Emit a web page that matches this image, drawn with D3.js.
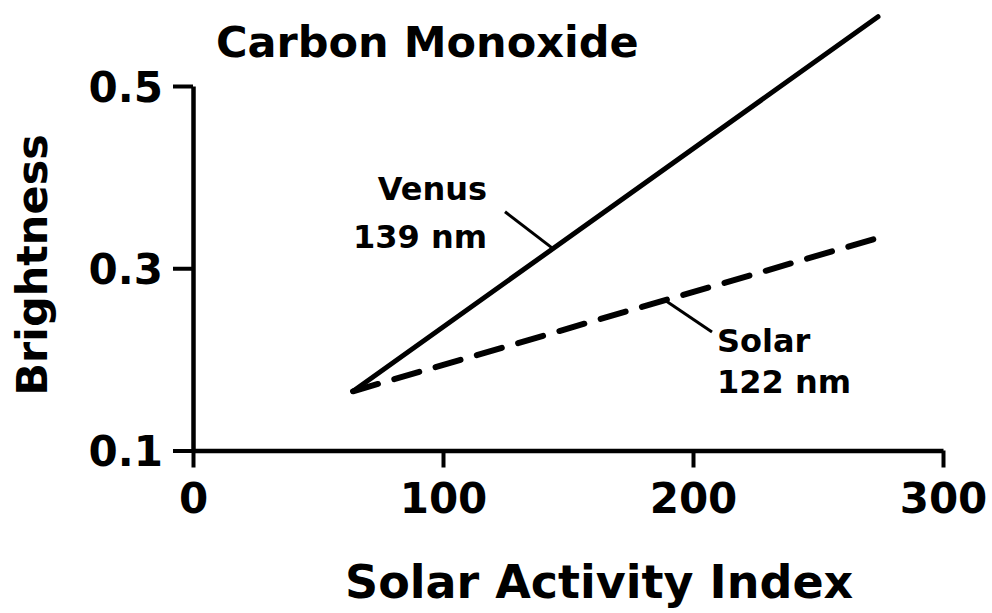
<!DOCTYPE html>
<html>
<head>
<meta charset="utf-8">
<script src="https://cdn.jsdelivr.net/npm/d3@7"></script>
<style>
  html, body { margin: 0; padding: 0; background: #fff; }
  svg { display: block; }
  text { font-family: "DejaVu Sans", sans-serif; font-weight: bold; fill: #000; }
</style>
</head>
<body>
<svg id="chart" width="992" height="613"></svg>
<script>
// Brightness of CO emission vs. solar activity
const xTicks = [0, 100, 200, 300];
const yTicks = [0.1, 0.3, 0.5];
const yTickLabels = ["0.1", "0.3", "0.5"];

const venusX = [64, 274];
const venusY = [0.165, 0.576];
const solarX = [64, 275];
const solarY = [0.165, 0.334];

// Series labels with leader lines (data coordinates)
const labelNames = ["Venus", "Solar"];
const labelWaves = ["139 nm", "122 nm"];
const leaderFromX = [124.8, 188.8];
const leaderFromY = [0.362, 0.265];
const leaderToX = [144, 207.6];
const leaderToY = [0.3216, 0.230];

const svg = d3.select("#chart");

const x = d3.scaleLinear().domain([0, 300]).range([193, 943]);
const y = d3.scaleLinear().domain([0.1, 0.5]).range([450.5, 86]);

// Axes
const xAxis = d3.axisBottom(x).tickValues(xTicks).tickSize(17).tickSizeOuter(0).tickPadding(14).tickFormat(d3.format("d"));
const yAxis = d3.axisLeft(y).tickValues(yTicks).tickSize(20).tickSizeOuter(0).tickPadding(10)
  .tickFormat((d, i) => yTickLabels[i]);

const gx = svg.append("g").attr("transform", `translate(0,${y(0.1)})`).call(xAxis);
const gy = svg.append("g").attr("transform", `translate(${x(0)},0)`).call(yAxis);

[gx, gy].forEach(g => {
  g.select(".domain").attr("stroke", "#000").attr("stroke-width", 4.5);
  g.selectAll(".tick line").attr("stroke", "#000").attr("stroke-width", 4);
  g.selectAll(".tick text").attr("font-size", 42).attr("font-family", "DejaVu Sans").attr("font-weight", "bold").attr("fill", "#000");
});
gx.selectAll(".tick text").attr("dy", "0.75em");
gy.selectAll(".tick text").attr("dy", "0.36em");

// Lines
const line = d3.line().x(d => x(d[0])).y(d => y(d[1]));
svg.append("path")
  .datum(venusX.map((v, i) => [v, venusY[i]]))
  .attr("d", line).attr("fill", "none").attr("stroke", "#000")
  .attr("stroke-width", 5).attr("stroke-linecap", "round");
svg.append("path")
  .datum(solarX.map((v, i) => [v, solarY[i]]))
  .attr("d", line).attr("fill", "none").attr("stroke", "#000")
  .attr("stroke-width", 6).attr("stroke-linecap", "round")
  .attr("stroke-dasharray", "26,17");

// Leader lines
labelNames.forEach((n, i) => {
  svg.append("line")
    .attr("x1", x(leaderFromX[i])).attr("y1", y(leaderFromY[i]))
    .attr("x2", x(leaderToX[i])).attr("y2", y(leaderToY[i]))
    .attr("stroke", "#000").attr("stroke-width", 3);
});

// Series labels
const venusLabel = svg.append("text").attr("font-size", 32).attr("text-anchor", "end");
venusLabel.append("tspan").attr("x", 487).attr("y", 200).text(labelNames[0]);
venusLabel.append("tspan").attr("x", 487).attr("y", 248).text(labelWaves[0]);

const solarLabel = svg.append("text").attr("font-size", 32).attr("text-anchor", "start");
solarLabel.append("tspan").attr("x", 717).attr("y", 352).text(labelNames[1]);
solarLabel.append("tspan").attr("x", 717).attr("y", 393).text(labelWaves[1]);

// Title and axis titles
svg.append("text").attr("x", 216).attr("y", 57).attr("font-size", 43).text("Carbon Monoxide");
svg.append("text").attr("x", 345).attr("y", 598).attr("font-size", 46).text("Solar Activity Index");
svg.append("text")
  .attr("transform", "translate(47,265) rotate(-90)")
  .attr("text-anchor", "middle").attr("font-size", 43).text("Brightness");
</script>
</body>
</html>
